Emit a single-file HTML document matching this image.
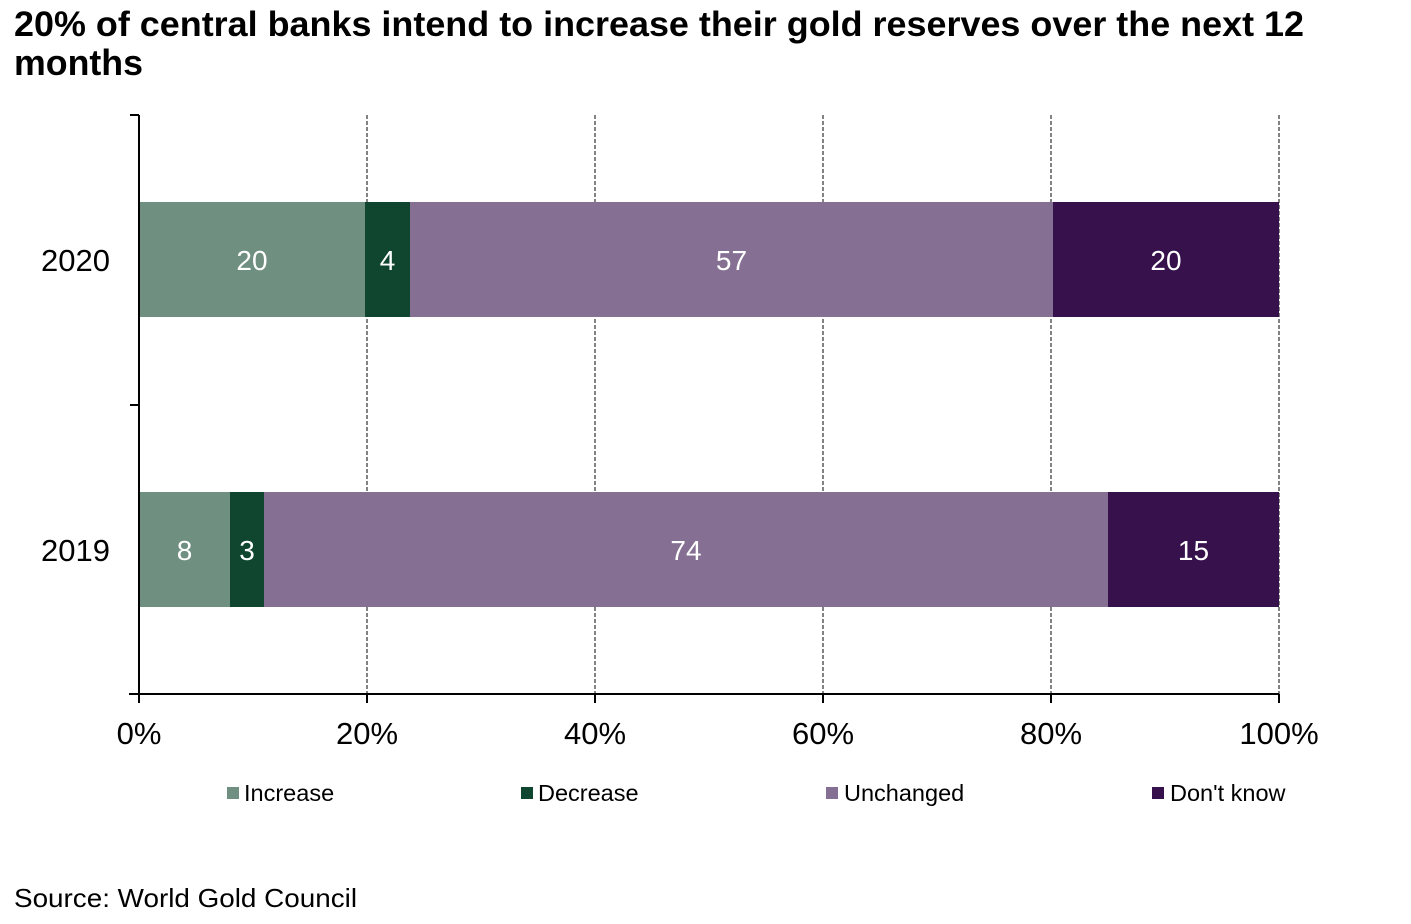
<!DOCTYPE html>
<html>
<head>
<meta charset="utf-8">
<style>
html,body{margin:0;padding:0;background:#fff;}
svg{display:block;}
text{font-family:"Liberation Sans",Arial,sans-serif;}
</style>
</head>
<body>
<svg width="1411" height="924" viewBox="0 0 1411 924" xmlns="http://www.w3.org/2000/svg">
  <rect width="1411" height="924" fill="#fff"/>
  <!-- Title -->
  <text x="14" y="36" font-size="35" font-weight="bold" fill="#000" textLength="1290" lengthAdjust="spacingAndGlyphs">20% of central banks intend to increase their gold reserves over the next 12</text>
  <text x="14" y="75" font-size="36" font-weight="bold" fill="#000" textLength="129" lengthAdjust="spacingAndGlyphs">months</text>

  <!-- Gridlines -->
  <g stroke="#5a5a5a" stroke-width="1.5" stroke-dasharray="4,2">
    <line x1="367" y1="115" x2="367" y2="694"/>
    <line x1="595" y1="115" x2="595" y2="694"/>
    <line x1="823" y1="115" x2="823" y2="694"/>
    <line x1="1051" y1="115" x2="1051" y2="694"/>
    <line x1="1279" y1="115" x2="1279" y2="694"/>
  </g>

  <!-- Bars 2020 -->
  <rect x="139" y="202" width="226" height="115" fill="#6F8F80"/>
  <rect x="365" y="202" width="45" height="115" fill="#104530"/>
  <rect x="410" y="202" width="643" height="115" fill="#857093"/>
  <rect x="1053" y="202" width="226" height="115" fill="#36114C"/>
  <!-- Bars 2019 -->
  <rect x="139" y="492" width="91" height="115" fill="#6F8F80"/>
  <rect x="230" y="492" width="34" height="115" fill="#104530"/>
  <rect x="264" y="492" width="844" height="115" fill="#857093"/>
  <rect x="1108" y="492" width="171" height="115" fill="#36114C"/>

  <!-- Data labels -->
  <g font-size="28" fill="#fff" text-anchor="middle">
    <text x="252" y="270">20</text>
    <text x="387.5" y="270">4</text>
    <text x="731.5" y="270">57</text>
    <text x="1166" y="270">20</text>
    <text x="184.5" y="560">8</text>
    <text x="247" y="560">3</text>
    <text x="686" y="560">74</text>
    <text x="1193.5" y="560">15</text>
  </g>

  <!-- Axes -->
  <g stroke="#000" stroke-width="2">
    <line x1="139" y1="115" x2="139" y2="695"/>
    <line x1="130" y1="115" x2="139" y2="115"/>
    <line x1="130" y1="405" x2="139" y2="405"/>
    <line x1="129" y1="694" x2="1279" y2="694"/>
    <line x1="139" y1="694" x2="139" y2="703"/>
    <line x1="367" y1="694" x2="367" y2="703"/>
    <line x1="595" y1="694" x2="595" y2="703"/>
    <line x1="823" y1="694" x2="823" y2="703"/>
    <line x1="1051" y1="694" x2="1051" y2="703"/>
    <line x1="1279" y1="694" x2="1279" y2="703"/>
  </g>

  <!-- Y labels -->
  <g font-size="31" fill="#000" text-anchor="end">
    <text x="110" y="271">2020</text>
    <text x="110" y="561">2019</text>
  </g>

  <!-- X tick labels -->
  <g font-size="31" fill="#000" text-anchor="middle">
    <text x="139" y="744">0%</text>
    <text x="367" y="744">20%</text>
    <text x="595" y="744">40%</text>
    <text x="823" y="744">60%</text>
    <text x="1051" y="744">80%</text>
    <text x="1279" y="744">100%</text>
  </g>

  <!-- Legend -->
  <rect x="227" y="787" width="12" height="12" fill="#6F8F80"/>
  <text x="244" y="801" font-size="23.5" fill="#000">Increase</text>
  <rect x="521" y="787" width="12" height="12" fill="#104530"/>
  <text x="538" y="801" font-size="23.5" fill="#000">Decrease</text>
  <rect x="826" y="787" width="12" height="12" fill="#857093"/>
  <text x="844" y="801" font-size="23.5" fill="#000">Unchanged</text>
  <rect x="1152" y="787" width="12" height="12" fill="#36114C"/>
  <text x="1170" y="801" font-size="23.5" fill="#000">Don't know</text>

  <!-- Source -->
  <text x="14" y="907" font-size="26" fill="#000" textLength="343" lengthAdjust="spacingAndGlyphs">Source: World Gold Council</text>
</svg>
</body>
</html>
